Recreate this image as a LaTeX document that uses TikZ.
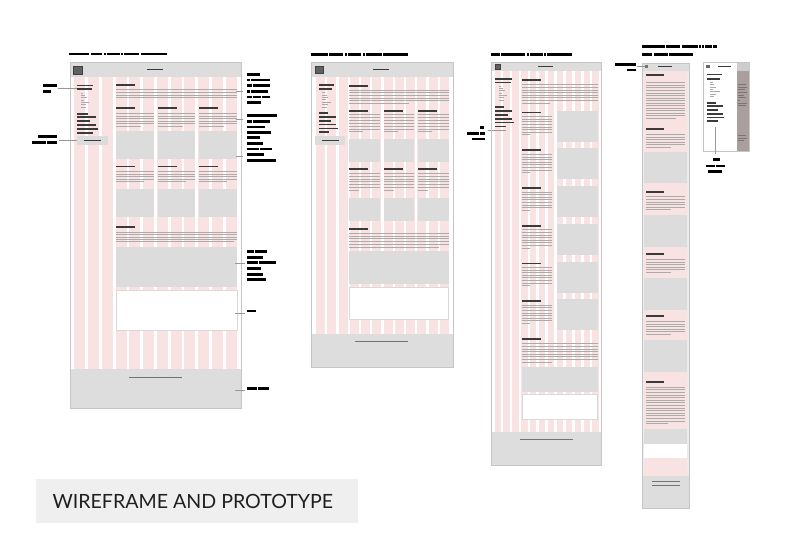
\documentclass[tikz,border=0pt]{standalone}
\usepackage{fontspec}
\newfontfamily\titlefont{Lato}
\definecolor{pinkc}{HTML}{F8E2E2}
\definecolor{imgc}{HTML}{DCDCDC}
\definecolor{hdrc}{HTML}{DDDDDD}
\definecolor{hdc}{HTML}{3A3A3A}
\definecolor{txc}{HTML}{ABABAB}
\definecolor{bordc}{HTML}{C6C6C6}
\definecolor{mauvec}{HTML}{AB9E9E}
\definecolor{mauvet}{HTML}{7F7474}
\definecolor{boxc}{HTML}{EFEFEF}
\definecolor{ldrc}{HTML}{999999}
\tikzset{
  framebox/.style={draw=bordc,line width=0.6pt},
  ldr/.style={draw=ldrc,line width=0.5pt},
}
\newcommand\wl[3]{%
  \xdef\wfx{#1}%
  \foreach \w in {#3}{%
    \fill[black] (\wfx,#2) rectangle ++(\w,2.6);
    \pgfmathsetmacro\wtmp{\wfx+\w+1.4}%
    \xdef\wfx{\wtmp}%
  }%
}
\newcommand\tlines[6]{%
  \foreach \i in {1,...,#4}{%
    \pgfmathsetmacro\ww{\i==#4 ? #6 : #3}%
    \fill[txc] (#1,{#2+(\i-1)*#5}) rectangle ++(\ww,0.8);
  }%
}
\newcommand\hdg[3]{\fill[hdc] (#1,#2) rectangle ++(#3,1.7);}
\newcommand\pcols[6]{%
  \foreach \i in {0,...,#4}{\fill[pinkc] ({#1+\i*#2},#5) rectangle ({#1+\i*#2+#3},#6);}%
}
\newcommand\smalllines[3]{% x, y0, widths list
  \foreach \w [count=\k] in {#3}{\fill[txc] (#1,{#2+(\k-1)*2.35}) rectangle ++(\w,0.8);}%
}
\newcommand\boldlines[2]{% x, list y/w
  \foreach \y/\w in {#2}{\hdg{#1}{\y}{\w}}%
}
\begin{document}
\begin{tikzpicture}[x=1pt,y=-1pt]
\useasboundingbox (0,0) rectangle (785,554);
\fill[white] (0,0) rectangle (785,554);

% ================= DESKTOP =================
\wl{69.3}{52.7}{20,11.7,1.7,12.7,1.7,15,26.7}
\fill[white] (70,62.7) rectangle (241.7,408.3);
\pcols{74.3}{13.76}{11}{11}{76.5}{369}
\fill[hdrc] (70,62.7) rectangle (241.7,76.5);
\filldraw[fill=black!62,draw=black!75,line width=0.4pt] (73.3,65.7) rectangle (81.7,74);
\fill[hdc] (147.3,69.2) rectangle (162.7,70.4);
\fill[hdrc] (70,369) rectangle (241.7,408.3);
\fill[black!55] (129,377.4) rectangle (182,378.4);
% sidebar
\hdg{77.3}{84.5}{15.4}
\hdg{77.3}{88.2}{14.4}
\smalllines{80.7}{92.6}{2.7,4.3,6,3.3,8.7,5.3,5}
\boldlines{77.3}{112.8/10.7,116.2/18.7,120.2/13,124.2/18.7,128.2/20.7,132/15.7}
\fill[imgc] (77.3,136) rectangle (107.7,145);
\fill[hdc] (84,140.2) rectangle (101,141.2);
% main
\hdg{116}{84}{19.3}
\tlines{116}{89.3}{120.7}{4}{2.6}{120.7}
\foreach \x in {116,157.7,199.3}{
  \hdg{\x}{107.3}{19}
  \tlines{\x}{113}{37.7}{6}{2.6}{25}
  \fill[imgc] (\x,131) rectangle ++(37.7,28.3);
  \hdg{\x}{165.7}{19}
  \tlines{\x}{171}{37.7}{5}{2.6}{28}
  \fill[imgc] (\x,189) rectangle ++(37.7,28.3);
}
\hdg{116}{226}{19.3}
\tlines{116}{231.7}{120.7}{5}{2.4}{118}
\fill[imgc] (116,247.3) rectangle (237.3,286.7);
\filldraw[fill=white,draw=black!15,line width=0.5pt] (116,290.7) rectangle (237.3,330);
\draw[framebox] (70,62.7) rectangle (241.7,408.3);
% desktop annotations left
\wl{42.7}{84.4}{14}
\wl{42.7}{90.4}{8.3}
\coordinate (navL) at (58,88.3); \coordinate (navR) at (76.7,88.3);
\draw[ldr] (navL) -- (navR);
\wl{38.3}{135.4}{18.3}
\wl{31.7}{141.4}{14,9.7}
\coordinate (btnL) at (59,140.7); \coordinate (btnR) at (77,140.7);
\draw[ldr] (btnL) -- (btnR);
% desktop annotations right
\wl{247}{73}{12.5}
\wl{247}{78.7}{2.5,19}
\wl{247}{84.4}{5,16.5}
\wl{247}{90}{2.5,17.5}
\wl{247}{95.7}{5,7.5,8}
\wl{247}{101.4}{14}
\coordinate (a1L) at (236,91); \coordinate (a1R) at (243.3,91);
\draw[ldr] (a1L) -- (a1R);
\wl{247}{114.4}{30}
\wl{247}{120.4}{5,16.5}
\wl{247}{125.7}{17.7}
\wl{247}{131}{23.7}
\wl{247}{136.4}{12.7}
\wl{247}{142}{16}
\wl{247}{147.7}{12,11.7}
\wl{247}{153}{17}
\wl{247}{159.3}{28.7}
\coordinate (a2L) at (236,119); \coordinate (a2R) at (243.3,119);
\draw[ldr] (a2L) -- (a2R);
\coordinate (a3L) at (236,156.7); \coordinate (a3R) at (243.3,156.7);
\draw[ldr] (a3L) -- (a3R);
\wl{247}{250.4}{7,11.5}
\wl{247}{256}{16}
\wl{247}{261.4}{11,17}
\wl{247}{267.4}{14.3}
\wl{247}{273}{16}
\wl{247}{278.4}{18.7}
\coordinate (a4L) at (235,263.3); \coordinate (a4R) at (245,263.3);
\draw[ldr] (a4L) -- (a4R);
\wl{247}{309.7}{9.3}
\coordinate (a5L) at (235,313); \coordinate (a5R) at (245,313);
\draw[ldr] (a5L) -- (a5R);
\wl{247}{387.4}{10,10.7}
\coordinate (a6L) at (235,390.7); \coordinate (a6R) at (245,390.7);
\draw[ldr] (a6L) -- (a6R);

% ================= TABLET =================
\wl{311}{53}{17,14,2,13,2,16,25}
\fill[white] (311,62.7) rectangle (453.3,367.7);
\pcols{316}{11.27}{9}{11}{77.3}{334.3}
\fill[hdrc] (311,62.7) rectangle (453.3,77.3);
\filldraw[fill=black!62,draw=black!75,line width=0.4pt] (315,65.7) rectangle (322.7,73.3);
\fill[hdc] (373.3,69.2) rectangle (389.3,70.4);
\fill[hdrc] (311,334.3) rectangle (453.3,367.7);
\fill[black!55] (355,340.5) rectangle (408.3,341.5);
\hdg{319}{84.3}{15.3}
\hdg{319}{88.3}{13.3}
\smalllines{322.3}{92.4}{2.7,4.3,6,3.3,8.7,5.3,5}
\boldlines{319}{112/9.3,116/17,120/12,123.6/17,127.6/18.7,131.3/10.3}
\fill[imgc] (315,136) rectangle (345,145);
\fill[hdc] (321.7,140) rectangle (339.3,141);
\hdg{349.3}{85}{19}
\tlines{349.3}{89.5}{99.4}{6}{2.7}{60}
\foreach \x in {349.3,384,418.3}{
  \hdg{\x}{110.3}{19}
  \tlines{\x}{114}{30.3}{7}{2.9}{14}
  \fill[imgc] (\x,139.3) rectangle ++(30.3,23);
  \hdg{\x}{168.3}{19}
  \tlines{\x}{172.7}{30.3}{7}{2.9}{10}
  \fill[imgc] (\x,197.7) rectangle ++(30.3,23.3);
}
\hdg{349.3}{228.3}{19}
\tlines{349.3}{233}{99.4}{6}{2.7}{90}
\fill[imgc] (349.3,251) rectangle (448.7,283.7);
\filldraw[fill=white,draw=black!15,line width=0.5pt] (349.3,287) rectangle (448.7,319);
\draw[framebox] (311,62.7) rectangle (453.3,367.7);

% ================= NARROW TABLET =================
\wl{491}{53}{9,23.7,2,12.7,1.7,25}
\fill[white] (491.7,62.7) rectangle (601.7,465);
\pcols{494.5}{8.9}{6.3}{11}{71}{432.3}
\fill[hdrc] (491.7,62.7) rectangle (601.7,71);
\filldraw[fill=black!62,draw=black!75,line width=0.4pt] (494.7,64.2) rectangle (500,69.5);
\fill[hdc] (538.3,66.2) rectangle (553.3,67.3);
\fill[hdrc] (491.7,432.3) rectangle (601.7,465);
\fill[black!55] (520,438.5) rectangle (573.3,439.5);
\hdg{495}{78}{17}
\hdg{495}{81.6}{15.5}
\smalllines{498.5}{85.5}{2.7,4.3,6,3.3,8.7,5.3,5}
\boldlines{495}{106/8.5,110.2/17,113.9/13,117.9/17,121.6/18.5,125.6/10.5}
\wl{480}{126.4}{4.3}
\wl{466.7}{132}{12,5}
\wl{471.7}{137.7}{13.3}
\coordinate (nL) at (488.3,130.3); \coordinate (nR) at (505.7,130.3);
\draw[ldr] (nL) -- (nR);
\hdg{521.7}{79.3}{19.3}
\tlines{521.7}{84.3}{76}{8}{2.6}{28}
\foreach \k in {0,...,5}{
  \pgfmathsetmacro\tp{110.7+\k*37.7}
  \hdg{521.7}{\tp+1}{19.3}
  \tlines{521.7}{\tp+5.5}{30}{8}{2.6}{8}
  \fill[imgc] (557.3,\tp) rectangle ++(41,31);
}
\hdg{521.7}{338.3}{19.3}
\tlines{521.7}{343.3}{76}{8}{2.6}{30}
\fill[imgc] (522.3,366.7) rectangle (597.7,391.7);
\filldraw[fill=white,draw=black!15,line width=0.5pt] (522.3,394.3) rectangle (597.7,419.3);
\draw[framebox] (491.7,62.7) rectangle (601.7,465);

% ================= MOBILE =================
\wl{642.3}{45.4}{22.7,14,15.7,1.7,1.7,6.7,3.3}
\wl{642.3}{53}{10,14.3,23.3}
\fill[black!8] (642.3,63.3) rectangle (689,508.3);
\fill[hdrc] (642.3,63.3) rectangle (689,71);
\fill[black!55] (645,65.3) rectangle (648.3,68.3);
\fill[hdc] (658.3,66.3) rectangle (671.7,67.3);
\foreach \a/\b/\c in {71/151.7/pinkc,151.7/183.3/imgc,183.3/215/pinkc,215/246.7/imgc,246.7/278.3/pinkc,278.3/310/imgc,310/340/pinkc,340/371.7/imgc,371.7/429.3/pinkc,429.3/444.3/imgc,444.3/457.7/white,457.7/476/pinkc}{
  \fill[\c] (644.3,\a) rectangle (687,\b);
}
\fill[hdrc] (642.3,476) rectangle (689,508.3);
\fill[black!55] (651.7,481.2) rectangle (680,482.2);
\fill[black!55] (651.7,484.5) rectangle (680,485.5);
\hdg{645.7}{74.2}{18}
\tlines{645.7}{82.3}{39}{15}{2.55}{30}
\hdg{645.7}{128.2}{18}
\tlines{645.7}{134}{39}{6}{2.6}{25}
\hdg{645.7}{190.9}{18}
\tlines{645.7}{196.3}{39}{6}{2.6}{25}
\hdg{645.7}{253.2}{18}
\tlines{645.7}{259}{39}{6}{2.6}{25}
\hdg{645.7}{315.2}{18}
\tlines{645.7}{321}{39}{6}{2.6}{25}
\hdg{645.7}{380.9}{18}
\tlines{645.7}{386.7}{39}{15}{2.6}{22}
\draw[framebox] (642.3,63.3) rectangle (689,508.3);
\wl{615}{63.1}{21}
\wl{626.7}{68.8}{9.3}
\coordinate (mL) at (636.7,66.7); \coordinate (mR) at (645,66.7);
\draw[ldr] (mL) -- (mR);

% ================= MOBILE MENU =================
\fill[white] (703.3,62.7) rectangle (736.7,151);
\fill[mauvec] (736.7,62.7) rectangle (749.3,151);
\fill[black!20] (736.7,62.7) rectangle (749.3,71);
\fill[black!60] (706,64.8) rectangle (709.5,68.3);
\fill[hdc] (718,65.6) rectangle (731,66.6);
\hdg{706.7}{73.5}{15}
\hdg{706.7}{77.8}{13.3}
\smalllines{710}{81.8}{2.7,4,6,3,10,6,4}
\boldlines{706.7}{101.8/9,105.3/16.6,109.2/11.6,112.8/16.6,116.5/17.6,120.3/11.6}
\foreach \y/\w in {84/8,86.7/9,89.3/7,92/9,94.7/6,97.3/8,100/2,102.7/9,105.3/8,135/8,137.7/9,140.3/6}{
  \fill[mauvet] (738.3,\y) rectangle ++(\w,0.8);
}
\draw[framebox] (703.3,62.7) rectangle (749.3,151);
\coordinate (mmT) at (715.7,127.3); \coordinate (mmB) at (715.7,154);
\draw[ldr] (mmT) -- (mmB);
\wl{712.7}{158}{7.3}
\wl{706}{164.7}{9,9}
\wl{708.3}{170.4}{13.3}

% ================= TITLE BOX =================
\fill[boxc] (35.7,479.3) rectangle (357.7,523.3);
\node[anchor=base west,inner sep=0pt,text=black!88] (title) at (52.3,508.3)
  {\titlefont\fontsize{19.6}{21}\selectfont WIREFRAME AND PROTOTYPE};
\end{tikzpicture}
\end{document}
